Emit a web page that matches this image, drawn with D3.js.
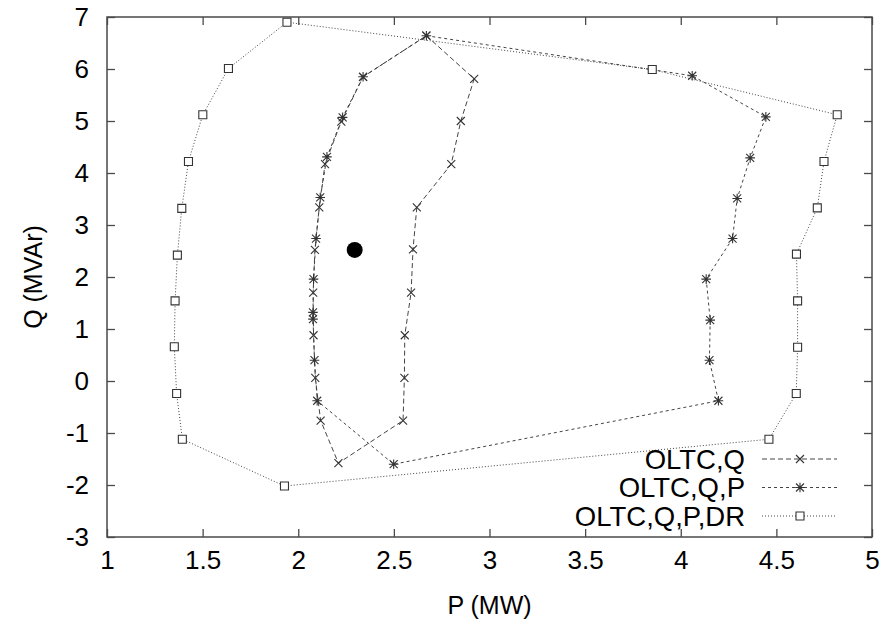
<!DOCTYPE html>
<html>
<head>
<meta charset="utf-8">
<script src="https://cdn.jsdelivr.net/npm/d3@7"></script>
<style>
  html, body { margin: 0; padding: 0; background: #fff; }
  svg { display: block; }
  text { font-family: "Liberation Sans", Arial, Helvetica, sans-serif; fill: #000; }
</style>
</head>
<body>
<svg id="chart" width="886" height="624"></svg>
<script>
// ---- data ----
const xTicks = [1, 1.5, 2, 2.5, 3, 3.5, 4, 4.5, 5];
const yTicks = [-3, -2, -1, 0, 1, 2, 3, 4, 5, 6, 7];
const xTickLabels = ["1", "1.5", "2", "2.5", "3", "3.5", "4", "4.5", "5"];
const yTickLabels = ["-3", "-2", "-1", "0", "1", "2", "3", "4", "5", "6", "7"];

const seriesNames = ["OLTC,Q", "OLTC,Q,P", "OLTC,Q,P,DR"];

const oltcQ_P = [2.67, 2.92, 2.85, 2.80, 2.62, 2.60, 2.59, 2.557, 2.555, 2.548, 2.21, 2.117, 2.089, 2.08, 2.078, 2.087, 2.11, 2.14, 2.225, 2.339, 2.67];
const oltcQ_Q = [6.64, 5.81, 5.00, 4.17, 3.34, 2.53, 1.70, 0.88, 0.06, -0.76, -1.58, -0.76, 0.06, 0.88, 1.70, 2.52, 3.34, 4.17, 4.99, 5.85, 6.64];

const oltcQP_P = [2.67, 4.06, 4.445, 4.363, 4.295, 4.271, 4.133, 4.154, 4.15, 4.197, 2.499, 2.099, 2.085, 2.077, 2.077, 2.08, 2.093, 2.115, 2.15, 2.232, 2.339, 2.67];
const oltcQP_Q = [6.64, 5.87, 5.08, 4.29, 3.51, 2.74, 1.96, 1.17, 0.40, -0.38, -1.60, -0.38, 0.40, 1.19, 1.32, 1.96, 2.74, 3.53, 4.31, 5.07, 5.85, 6.64];

const oltcQPDR_P = [1.941, 3.851, 4.818, 4.749, 4.714, 4.605, 4.611, 4.611, 4.604, 4.461, 1.928, 1.394, 1.364, 1.352, 1.356, 1.368, 1.391, 1.426, 1.501, 1.635, 1.941];
const oltcQPDR_Q = [6.90, 5.99, 5.12, 4.22, 3.33, 2.44, 1.54, 0.65, -0.24, -1.12, -2.02, -1.12, -0.24, 0.66, 1.54, 2.42, 3.32, 4.22, 5.12, 6.01, 6.90];

const operatingPoint_P = [2.295];
const operatingPoint_Q = [2.52];

// ---- layout ----
const svg = d3.select("#chart");
const mLeft = 107, mRight = 872, mTop = 17, mBottom = 537;

const x = d3.scaleLinear().domain([1, 5]).range([mLeft, mRight]);
const y = d3.scaleLinear().domain([-3, 7]).range([mBottom, mTop]);

const frameColor = "#4a4a4a";
const tickLen = 8;

const gB = svg.append("g").attr("transform", `translate(0,${mBottom})`)
  .call(d3.axisBottom(x).tickValues(xTicks).tickSize(-tickLen).tickPadding(14)
    .tickFormat((d, i) => xTickLabels[i]));
const gT = svg.append("g").attr("transform", `translate(0,${mTop})`)
  .call(d3.axisTop(x).tickValues(xTicks).tickSize(-tickLen).tickFormat(""));
const gL = svg.append("g").attr("transform", `translate(${mLeft},0)`)
  .call(d3.axisLeft(y).tickValues(yTicks).tickSize(-tickLen).tickPadding(18)
    .tickFormat((d, i) => yTickLabels[i]));
const gR = svg.append("g").attr("transform", `translate(${mRight},0)`)
  .call(d3.axisRight(y).tickValues(yTicks).tickSize(-tickLen).tickFormat(""));

[gB, gT, gL, gR].forEach(g => {
  g.select(".domain").remove();
  g.selectAll(".tick line").attr("stroke", frameColor).attr("stroke-width", 1.3);
  g.selectAll(".tick text").attr("font-size", 26)
    .attr("font-family", "'Liberation Sans', Arial, sans-serif").attr("fill", "#000");
});
gB.selectAll(".tick text").attr("dy", "0.71em");

svg.append("rect").attr("x", mLeft).attr("y", mTop)
  .attr("width", mRight - mLeft).attr("height", mBottom - mTop)
  .attr("fill", "none").attr("stroke", frameColor).attr("stroke-width", 1.5);

// axis titles
svg.append("text").attr("x", (mLeft + mRight) / 2).attr("y", 614)
  .attr("text-anchor", "middle").attr("font-size", 25).text("P (MW)");
svg.append("text").attr("transform", `translate(42,${(mTop + mBottom) / 2}) rotate(-90)`)
  .attr("text-anchor", "middle").attr("font-size", 25).text("Q (MVAr)");

// ---- series ----
const lineColor = "#444";
const markerColor = "#333";
const series = [
  { name: seriesNames[0], P: oltcQ_P, Q: oltcQ_Q, dash: "5,3", marker: "x" },
  { name: seriesNames[1], P: oltcQP_P, Q: oltcQP_Q, dash: "3,3", marker: "star" },
  { name: seriesNames[2], P: oltcQPDR_P, Q: oltcQPDR_Q, dash: "1,2", marker: "square" }
];

const line = d3.line().x(d => x(d[0])).y(d => y(d[1]));

function markerPath(type, s) {
  const h = s;
  if (type === "x") return `M${-h},${-h}L${h},${h}M${-h},${h}L${h},${-h}`;
  if (type === "star") return `M${-h},${-h}L${h},${h}M${-h},${h}L${h},${-h}M0,${-h * 1.2}L0,${h * 1.2}M${-h * 1.2},0L${h * 1.2},0`;
  return `M${-h},${-h}H${h}V${h}H${-h}Z`;
}

series.forEach(s => {
  const pts = s.P.map((p, i) => [p, s.Q[i]]);
  svg.append("path").datum(pts).attr("d", line)
    .attr("fill", "none").attr("stroke", lineColor).attr("stroke-width", 1)
    .attr("stroke-dasharray", s.dash);
  const uniq = pts.slice(0, pts.length - 1);
  svg.append("g").selectAll("path").data(uniq).join("path")
    .attr("transform", d => `translate(${x(d[0])},${y(d[1])})`)
    .attr("d", markerPath(s.marker, 4))
    .attr("fill", s.marker === "square" ? "#fff" : "none")
    .attr("stroke", markerColor).attr("stroke-width", 1.1);
});

// operating point
svg.append("g").selectAll("circle")
  .data(operatingPoint_P.map((p, i) => [p, operatingPoint_Q[i]]))
  .join("circle")
  .attr("cx", d => x(d[0])).attr("cy", d => y(d[1])).attr("r", 8)
  .attr("fill", "#000");

// ---- legend ----
const legY = [459, 487.5, 516];
const lg = svg.append("g");
series.forEach((s, i) => {
  lg.append("text").attr("x", 745).attr("y", legY[i]).attr("dy", "0.36em")
    .attr("text-anchor", "end").attr("font-size", 27.5).text(s.name);
  lg.append("line").attr("x1", 762).attr("x2", 837).attr("y1", legY[i]).attr("y2", legY[i])
    .attr("stroke", lineColor).attr("stroke-width", 1).attr("stroke-dasharray", s.dash);
  lg.append("path").attr("transform", `translate(800,${legY[i]})`)
    .attr("d", markerPath(s.marker, 4))
    .attr("fill", s.marker === "square" ? "#fff" : "none")
    .attr("stroke", markerColor).attr("stroke-width", 1.1);
});
</script>
</body>
</html>
